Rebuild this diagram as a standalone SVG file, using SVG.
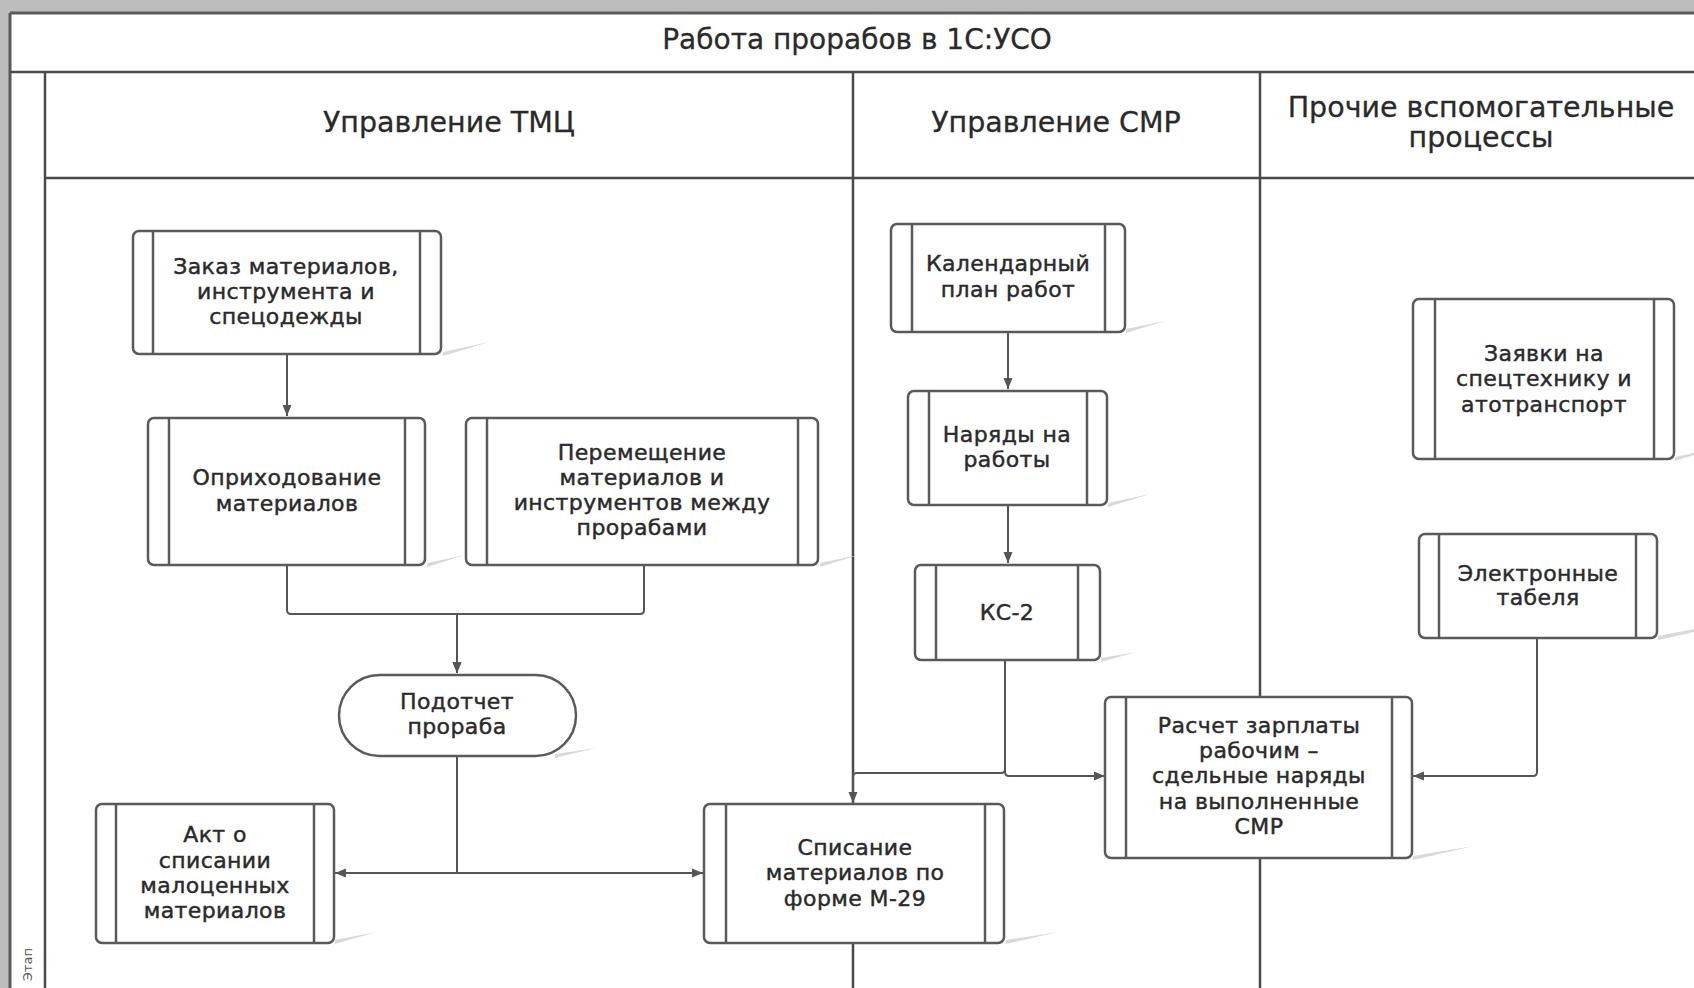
<svg xmlns="http://www.w3.org/2000/svg" width="1694" height="988" viewBox="0 0 1694 988">
<style>
.frame{fill:none;stroke:#5a5a5a;stroke-width:3}
.lane{fill:none;stroke:#4a4a4a;stroke-width:2.5}
.box{fill:#fff;stroke:#5a5a5a;stroke-width:2.5}
.bar{stroke:#5a5a5a;stroke-width:2.5}
.sh{fill:#d9d9d9}
.t{font-family:"DejaVu Sans","Liberation Sans",sans-serif;font-size:22px;fill:#2a2a2a;stroke:#2a2a2a;stroke-width:0.45;letter-spacing:0.4px;text-anchor:middle}
.h{font-family:"DejaVu Sans","Liberation Sans",sans-serif;font-size:28.5px;fill:#2a2a2a;stroke:#2a2a2a;stroke-width:0.3;text-anchor:middle}
.conn{fill:none;stroke:#555;stroke-width:2}
</style>
<defs>
<marker id="arr" markerUnits="userSpaceOnUse" markerWidth="12" markerHeight="12" viewBox="0 0 12 12" refX="11" refY="6" orient="auto">
<path d="M0,1.5 L11,6 L0,10.5 Z" fill="#555"/>
</marker>
</defs>
<rect x="0" y="0" width="1694" height="988" fill="#bdbdbd"/>
<rect x="10" y="13" width="1700" height="990" fill="#fff"/>
<g id="pool">
<line class="frame" x1="10" y1="13" x2="1694" y2="13"/>
<line class="frame" x1="10" y1="13" x2="10" y2="988"/>
<line class="lane" x1="10" y1="72" x2="1694" y2="72"/>
<line class="lane" x1="45" y1="72" x2="45" y2="988"/>
<line class="lane" x1="45" y1="178" x2="1694" y2="178"/>
<line class="lane" x1="853" y1="72" x2="853" y2="988"/>
<line class="lane" x1="1260" y1="72" x2="1260" y2="988"/>
<text class="h" x="857" y="49" style="font-size:28px">Работа прорабов в 1С:УСО</text>
<text class="h" x="449" y="132">Управление ТМЦ</text>
<text class="h" x="1056" y="132">Управление СМР</text>
<text class="h" x="1481" y="117">Прочие вспомогательные</text>
<text class="h" x="1481" y="147">процессы</text>
<text x="32" y="948" transform="rotate(-90 32 948)" font-family="DejaVu Sans, sans-serif" font-size="13" fill="#555" text-anchor="end">Этап</text>
</g>
<g id="connectors">
<path class="conn" d="M287,354 V416" marker-end="url(#arr)"/>
<path class="conn" d="M287,565 V610 Q287,614 291,614 H457 V673" marker-end="url(#arr)"/>
<path class="conn" d="M644,565 V610 Q644,614 640,614 H457 V673" marker-end="url(#arr)"/>
<path class="conn" d="M457,756 V873 H335" marker-end="url(#arr)"/>
<path class="conn" d="M457,756 V873 H703" marker-end="url(#arr)"/>
<path class="conn" d="M1008,332 V389" marker-end="url(#arr)"/>
<path class="conn" d="M1008,505 V563" marker-end="url(#arr)"/>
<path class="conn" d="M1005,660 V769 Q1005,773 1001,773 H857 Q853,773 853,777 V803" marker-end="url(#arr)"/>
<path class="conn" d="M1005,660 V772 Q1005,776 1009,776 H1105" marker-end="url(#arr)"/>
<path class="conn" d="M1537,638 V772 Q1537,776 1533,776 H1413" marker-end="url(#arr)"/>
</g>
<g id="n1">
<polygon class="sh" points="443,352 489,342 443,356"/>
<rect class="box" x="133" y="231" width="308" height="123" rx="6"/>
<line class="bar" x1="153" y1="231" x2="153" y2="354"/><line class="bar" x1="420" y1="231" x2="420" y2="354"/>
<text class="t" x="286" y="274">Заказ материалов,</text>
<text class="t" x="286" y="299">инструмента и</text>
<text class="t" x="286" y="324">спецодежды</text>
</g>
<g id="n2">
<polygon class="sh" points="427,563 465,555 427,567"/>
<rect class="box" x="148" y="418" width="277" height="147" rx="6"/>
<line class="bar" x1="169" y1="418" x2="169" y2="565"/><line class="bar" x1="405" y1="418" x2="405" y2="565"/>
<text class="t" x="287" y="485">Оприходование</text>
<text class="t" x="287" y="511">материалов</text>
</g>
<g id="n3">
<polygon class="sh" points="820,563 858,555 820,567"/>
<rect class="box" x="466" y="418" width="352" height="147" rx="6"/>
<line class="bar" x1="487" y1="418" x2="487" y2="565"/><line class="bar" x1="798" y1="418" x2="798" y2="565"/>
<text class="t" x="642" y="460">Перемещение</text>
<text class="t" x="642" y="485">материалов и</text>
<text class="t" x="642" y="510">инструментов между</text>
<text class="t" x="642" y="535">прорабами</text>
</g>
<g id="n4">
<polygon class="sh" points="555,754 596,748 555,758"/>
<rect class="box" x="339" y="675" width="237" height="81" rx="40.5"/>
<text class="t" x="457" y="709">Подотчет</text>
<text class="t" x="457" y="734">прораба</text>
</g>
<g id="n5">
<polygon class="sh" points="335,940 376,932 335,944"/>
<rect class="box" x="96" y="804" width="238" height="139" rx="6"/>
<line class="bar" x1="116" y1="804" x2="116" y2="943"/><line class="bar" x1="314" y1="804" x2="314" y2="943"/>
<text class="t" x="215" y="842">Акт о</text>
<text class="t" x="215" y="868">списании</text>
<text class="t" x="215" y="893">малоценных</text>
<text class="t" x="215" y="918">материалов</text>
</g>
<g id="n6">
<polygon class="sh" points="1006,940 1058,932 1006,944"/>
<rect class="box" x="704" y="804" width="300" height="139" rx="6"/>
<line class="bar" x1="726" y1="804" x2="726" y2="943"/><line class="bar" x1="985" y1="804" x2="985" y2="943"/>
<text class="t" x="855" y="855">Списание</text>
<text class="t" x="855" y="880">материалов по</text>
<text class="t" x="855" y="906">форме М-29</text>
</g>
<g id="n7">
<polygon class="sh" points="1126,329 1165,321 1126,333"/>
<rect class="box" x="891" y="224" width="234" height="108" rx="6"/>
<line class="bar" x1="912" y1="224" x2="912" y2="332"/><line class="bar" x1="1105" y1="224" x2="1105" y2="332"/>
<text class="t" x="1008" y="271">Календарный</text>
<text class="t" x="1008" y="297">план работ</text>
</g>
<g id="n8">
<polygon class="sh" points="1108,503 1150,494 1108,507"/>
<rect class="box" x="908" y="391" width="199" height="114" rx="6"/>
<line class="bar" x1="929" y1="391" x2="929" y2="505"/><line class="bar" x1="1087" y1="391" x2="1087" y2="505"/>
<text class="t" x="1007" y="442">Наряды на</text>
<text class="t" x="1007" y="467">работы</text>
</g>
<g id="n9">
<polygon class="sh" points="1101,658 1136,652 1101,662"/>
<rect class="box" x="915" y="565" width="185" height="95" rx="6"/>
<line class="bar" x1="936" y1="565" x2="936" y2="660"/><line class="bar" x1="1078" y1="565" x2="1078" y2="660"/>
<text class="t" x="1007" y="620">КС-2</text>
</g>
<g id="n10">
<polygon class="sh" points="1413,856 1474,846 1413,860"/>
<rect class="box" x="1105" y="697" width="307" height="161" rx="6"/>
<line class="bar" x1="1126" y1="697" x2="1126" y2="858"/><line class="bar" x1="1392" y1="697" x2="1392" y2="858"/>
<text class="t" x="1259" y="733">Расчет зарплаты</text>
<text class="t" x="1259" y="758">рабочим –</text>
<text class="t" x="1259" y="783">сдельные наряды</text>
<text class="t" x="1259" y="809">на выполненные</text>
<text class="t" x="1259" y="834">СМР</text>
</g>
<g id="n11">
<polygon class="sh" points="1675,457 1694,453 1694,455 1675,461"/>
<rect class="box" x="1413" y="299" width="261" height="160" rx="6"/>
<line class="bar" x1="1435" y1="299" x2="1435" y2="459"/><line class="bar" x1="1654" y1="299" x2="1654" y2="459"/>
<text class="t" x="1544" y="361">Заявки на</text>
<text class="t" x="1544" y="386">спецтехнику и</text>
<text class="t" x="1544" y="412">атотранспорт</text>
</g>
<g id="n12">
<polygon class="sh" points="1658,636 1694,629 1694,632 1658,640"/>
<rect class="box" x="1419" y="534" width="238" height="104" rx="6"/>
<line class="bar" x1="1439" y1="534" x2="1439" y2="638"/><line class="bar" x1="1636" y1="534" x2="1636" y2="638"/>
<text class="t" x="1538" y="581">Электронные</text>
<text class="t" x="1538" y="605">табеля</text>
</g>
</svg>
